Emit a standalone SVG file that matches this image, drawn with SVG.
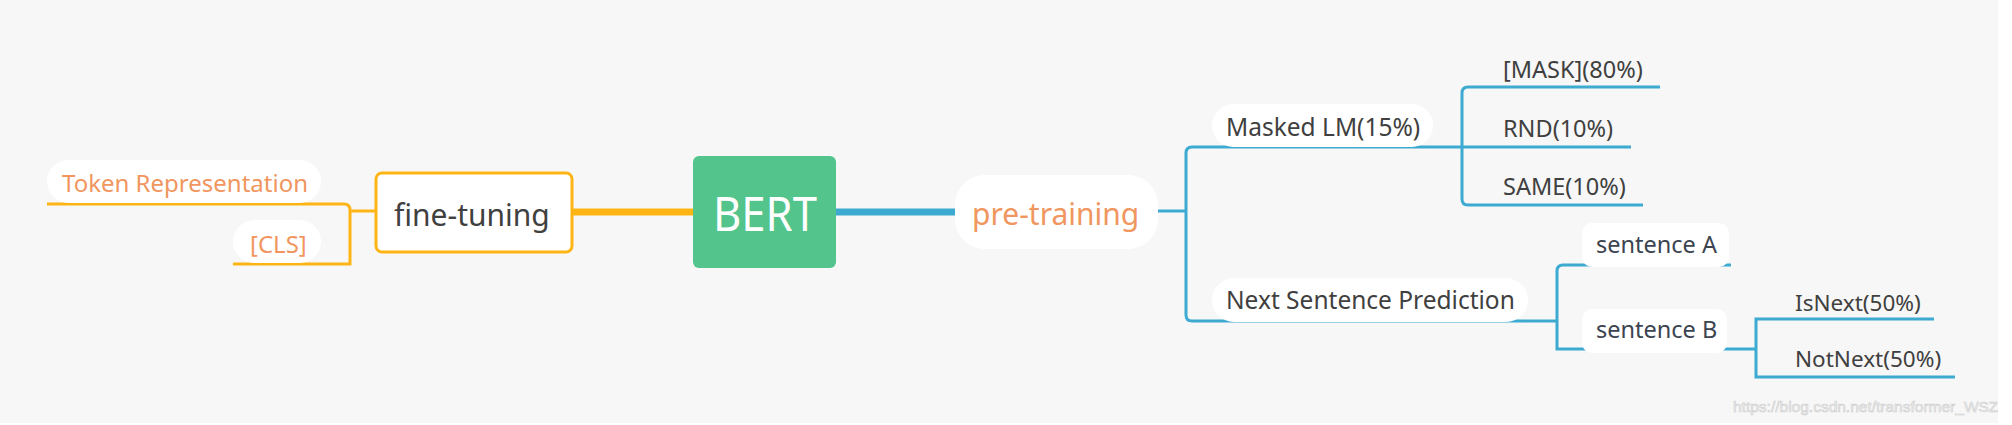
<svg xmlns="http://www.w3.org/2000/svg" width="2012" height="425" viewBox="0 0 2012 425">
<style>
text{font-family:"Noto Sans","Open Sans","DejaVu Sans",sans-serif}
.pill{fill:#ffffff}
.dark{fill:#404040}
.sent{fill:#3c4450}
.orange{fill:#F0965E}
.ob{fill:none;stroke:#FDB515;stroke-width:3}
.bl{fill:none;stroke:#3DAAD2;stroke-width:3}
.thickO{fill:none;stroke:#FDB515;stroke-width:7}
.thickB{fill:none;stroke:#3DAAD2;stroke-width:7}
.l2{font-size:24.5px}
.l3{font-size:23.5px}
.l4{font-size:22.5px}
</style>
<rect x="0" y="0" width="2012" height="425" fill="#ffffff"/>
<rect x="0" y="0" width="1998" height="423" fill="#F7F7F7"/>
<g id="connectors">
<path class="thickO" d="M572 212 H693"/>
<path class="thickB" d="M836 212 H955"/>
<path class="ob" d="M350 211 H376"/>
<path class="ob" d="M47 204 H344 Q350 204 350 210 V264 H233"/>
<path class="bl" d="M1158 211 H1186"/>
<path class="bl" d="M1433 147 H1192 Q1186 147 1186 153 V315 Q1186 321 1192 321 H1528"/>
<path class="bl" d="M1433 147 H1462"/>
<path class="bl" d="M1660 87 H1468 Q1462 87 1462 93 V199 Q1462 205 1468 205 H1643"/>
<path class="bl" d="M1462 147 H1631"/>
<path class="bl" d="M1528 321 H1557"/>
<path class="bl" d="M1731 265 H1563 Q1557 265 1557 271 V349 H1756"/>
<path class="bl" d="M1934 319 H1756 V377 H1955"/>
</g>
<g id="bert">
<rect x="693" y="156" width="143" height="112" rx="6" fill="#52C48C"/>
<text x="713" y="231" font-size="47" fill="#ffffff" textLength="104" lengthAdjust="spacingAndGlyphs">BERT</text>
</g>
<g id="fine-tuning">
<rect x="376" y="173" width="196" height="79" rx="6" fill="#ffffff" stroke="#FDB515" stroke-width="3"/>
<text x="394" y="226" font-size="30" class="dark">fine-tuning</text>
</g>
<g id="token-representation">
<rect class="pill" x="47" y="160" width="274" height="43" rx="21.5"/>
<text x="62" y="192" font-size="24" class="orange">Token Representation</text>
</g>
<g id="cls">
<rect class="pill" x="233" y="220" width="88" height="43" rx="21.5"/>
<text x="250" y="253" font-size="24" class="orange">[CLS]</text>
</g>
<g id="pre-training">
<rect class="pill" x="955" y="175" width="203" height="74" rx="30"/>
<text x="972" y="225" font-size="30" class="orange">pre-training</text>
</g>
<g id="masked-lm">
<rect class="pill" x="1212" y="104" width="221" height="43" rx="21.5"/>
<text x="1226" y="136" class="dark l2">Masked LM(15%)</text>
</g>
<g id="mask80">
<text x="1503" y="78" class="dark l3">[MASK](80%)</text>
</g>
<g id="rnd10">
<text x="1503" y="137" class="dark l3">RND(10%)</text>
</g>
<g id="same10">
<text x="1503" y="195" class="dark l3">SAME(10%)</text>
</g>
<g id="nsp">
<rect class="pill" x="1212" y="278" width="316" height="44" rx="22"/>
<text x="1226" y="309" class="dark l2">Next Sentence Prediction</text>
</g>
<g id="sentence-a">
<rect class="pill" x="1582" y="223" width="147" height="44" rx="10"/>
<text x="1596" y="253" class="sent l3">sentence A</text>
</g>
<g id="sentence-b">
<rect class="pill" x="1582" y="309" width="145" height="44" rx="10"/>
<text x="1596" y="338" class="sent l3">sentence B</text>
</g>
<g id="isnext">
<text x="1795" y="311" class="dark l4">IsNext(50%)</text>
</g>
<g id="notnext">
<text x="1795" y="367" class="dark l4">NotNext(50%)</text>
</g>
<clipPath id="wm"><rect x="1700" y="390" width="298" height="33"/></clipPath>
<text x="1733" y="412" clip-path="url(#wm)" style="font-family:'Liberation Sans',Arial,sans-serif;font-size:15.5px" fill="#f2f2f2" stroke="#cdcdcd" stroke-width="0.6">https://blog.csdn.net/transformer_WSZ</text>
</svg>
